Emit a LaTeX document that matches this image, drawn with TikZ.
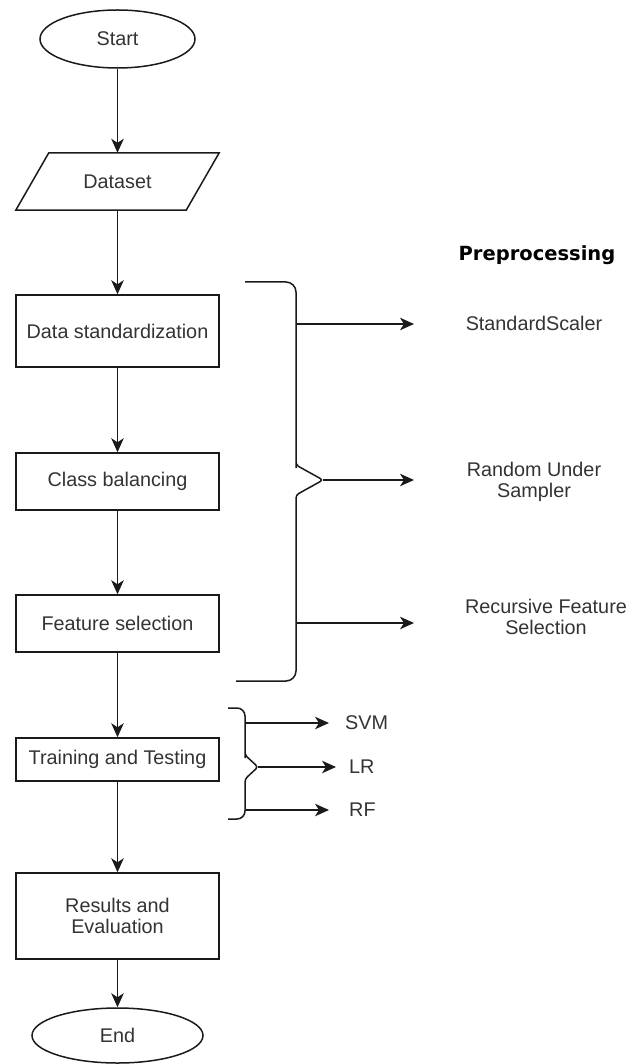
\documentclass[tikz,border=0pt]{standalone}
\usepackage{fontspec}
\setmainfont{Liberation Sans}
\newfontfamily\boldhead{DejaVu Sans}
\usetikzlibrary{shapes.geometric,arrows.meta}
\definecolor{txt}{HTML}{333333}
\definecolor{ln}{HTML}{1A1A1A}
\begin{document}
\begin{tikzpicture}[x=1pt,y=-1pt,
  every node/.style={text=txt,font=\fontsize{19.8}{20.5}\selectfont},
  box/.style={draw=ln,line width=1.5pt,rectangle,minimum width=203pt,inner sep=0pt,align=center},
  term/.style={draw=ln,line width=1.5pt,ellipse,inner sep=0pt},
  lbl/.style={align=center,inner sep=0pt},
  flow/.style={draw=ln,line width=1.5pt,-{Stealth[length=14pt,width=12.5pt,inset=4pt]}},
  brace/.style={draw=ln,line width=1.5pt}]
\useasboundingbox (0,0) rectangle (632,1064);
% main column
\node[term,minimum width=155pt,minimum height=58pt] (start) at (117.5,39) {Start};
\node[inner sep=0pt,minimum width=203pt,minimum height=57pt] (dataset) at (117.5,181.5) {Dataset};
\draw[ln,line width=1.5pt] (dataset.south west) -- ([xshift=-33pt]dataset.south east) -- (dataset.north east) -- ([xshift=33pt]dataset.north west) -- cycle;
\node[box,minimum height=72pt] (std) at (117.5,331) {Data standardization};
\node[box,minimum height=57pt] (cls) at (117.5,481.5) {Class balancing};
\node[box,minimum height=57pt] (fs) at (117.5,623.5) {Feature selection};
\node[box,minimum height=43pt] (tt) at (117.5,759.5) {Training and Testing};
\node[box,minimum height=86pt] (res) at (117.5,916) {Results and\\Evaluation};
\node[term,minimum width=171pt,minimum height=55pt] (end) at (117.5,1035.5) {End};
\draw[flow] (start) -- (dataset);
\draw[flow] (dataset) -- (std);
\draw[flow] (std) -- (cls);
\draw[flow] (cls) -- (fs);
\draw[flow] (fs) -- (tt);
\draw[flow] (tt) -- (res);
\draw[flow] (res) -- (end);
% preprocessing brace
\node[lbl,font=\boldhead\bfseries\fontsize{19.5}{21}\selectfont,text=black] (pre) at (537,255) {Preprocessing};
\draw[brace,rounded corners=10pt] (245,282) -- (296,282) -- (296,458) [rounded corners=3pt] -- (296,465) -- (323,480) -- (296,495) -- (296,502) [rounded corners=10pt] -- (296,681) -- (236,681);
\coordinate (b1) at (296,324);
\coordinate (b2) at (323,480);
\coordinate (b3) at (296,623);
\coordinate (e1) at (414,324);
\coordinate (e2) at (414,480);
\coordinate (e3) at (414,623);
\draw[flow] (b1) -- (e1);
\draw[flow] (b2) -- (e2);
\draw[flow] (b3) -- (e3);
\node[lbl] (ss) at (534,323) {StandardScaler};
\node[lbl] (rus) at (534,482) {Random Under\\Sampler};
\node[lbl] (rfe) at (546,617) {Recursive Feature\\Selection};
% model brace
\draw[brace,rounded corners=8pt] (228,708) -- (245,708) -- (245,750) [rounded corners=3pt] -- (245,755) -- (258,767) -- (245,779) -- (245,784) [rounded corners=8pt] -- (245,819) -- (228,819);
\coordinate (m1) at (245,723);
\coordinate (m2) at (258,767);
\coordinate (m3) at (245,810);
\coordinate (n1) at (329,723);
\coordinate (n2) at (336,767);
\coordinate (n3) at (329,810);
\draw[flow] (m1) -- (n1);
\draw[flow] (m2) -- (n2);
\draw[flow] (m3) -- (n3);
\node[lbl,anchor=west] (svm) at (345,723) {SVM};
\node[lbl,anchor=west] (lr) at (349,767) {LR};
\node[lbl,anchor=west] (rf) at (349,810) {RF};
\end{tikzpicture}
\end{document}
